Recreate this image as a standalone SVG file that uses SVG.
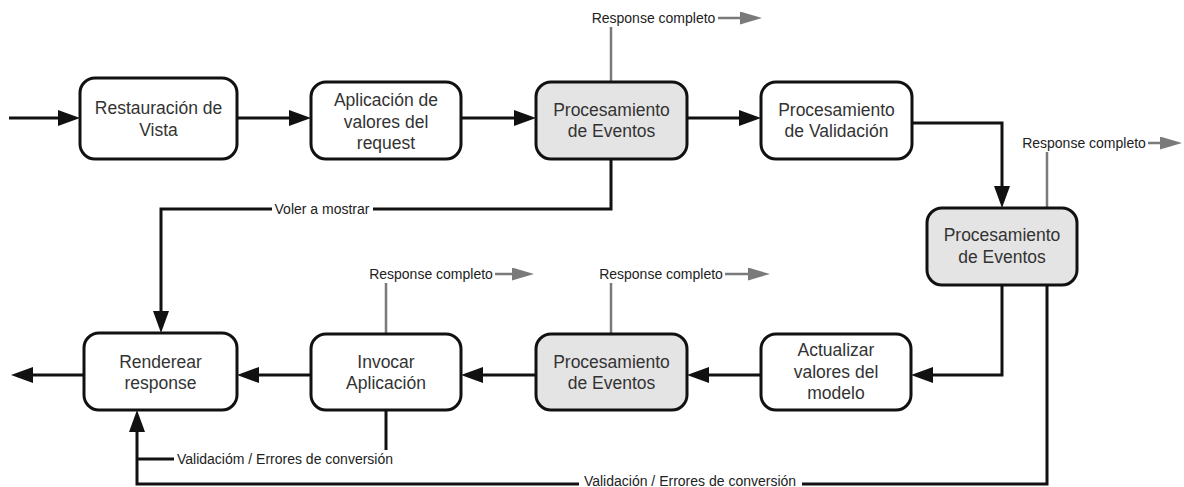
<svg xmlns="http://www.w3.org/2000/svg" width="1184" height="487" viewBox="0 0 1184 487">
<style>
.box{fill:#fff;stroke:#111;stroke-width:3}
.grey{fill:#e4e4e4}
.nt{font-family:"Liberation Sans",Arial,sans-serif;font-size:17.5px;fill:#333;text-anchor:middle}
.lt{font-family:"Liberation Sans",Arial,sans-serif;font-size:14px;fill:#222;text-anchor:middle}
.c{fill:none;stroke:#111;stroke-width:3}
.g{fill:none;stroke:#7a7a7a;stroke-width:2.5}
.bg{fill:#fff}
</style>
<defs>
<marker id="ah" markerUnits="userSpaceOnUse" markerWidth="22" markerHeight="16" refX="12" refY="8" orient="auto"><path d="M0,0 L22,8 L0,16 z" fill="#111"/></marker>
<marker id="gh" markerUnits="userSpaceOnUse" markerWidth="22" markerHeight="13" refX="12" refY="6.5" orient="auto"><path d="M0,0 L22,6.5 L0,13 z" fill="#7a7a7a"/></marker>
</defs>
<g id="connectors">
<path class="c" d="M9,118 L70,118" marker-end="url(#ah)"/>
<path class="c" d="M237,118 L301,118" marker-end="url(#ah)"/>
<path class="c" d="M461,118 L526,118" marker-end="url(#ah)"/>
<path class="c" d="M687,118 L751,118" marker-end="url(#ah)"/>
<path class="c" d="M912,123 L1002,123 L1002,198" marker-end="url(#ah)"/>
<path class="c" d="M1002,285 L1002,375 L921,375" marker-end="url(#ah)"/>
<path class="c" d="M761,375 L697,375" marker-end="url(#ah)"/>
<path class="c" d="M536,375 L471,375" marker-end="url(#ah)"/>
<path class="c" d="M311,375 L247,375" marker-end="url(#ah)"/>
<path class="c" d="M84,375 L21,375" marker-end="url(#ah)"/>
<path class="c" d="M611,159 L611,209 L161,209 L161,323" marker-end="url(#ah)"/>
<path class="c" d="M386,410 L386,459 L137,459"/>
<path class="c" d="M1047,285 L1047,484 L137,484 L137,420" marker-end="url(#ah)"/>
<path class="g" d="M611,83 L611,18 L752,18" marker-end="url(#gh)"/>
<path class="g" d="M1047,208 L1047,143 L1172,143" marker-end="url(#gh)"/>
<path class="g" d="M386,334 L386,274 L524,274" marker-end="url(#gh)"/>
<path class="g" d="M611,334 L611,274 L760,274" marker-end="url(#gh)"/>
<rect class="bg" x="589" y="9" width="129" height="18"/>
<text class="lt" x="653.5" y="23">Response completo</text>
<rect class="bg" x="1020" y="134" width="128" height="18"/>
<text class="lt" x="1084" y="148">Response completo</text>
<rect class="bg" x="367" y="265" width="128" height="18"/>
<text class="lt" x="431" y="279">Response completo</text>
<rect class="bg" x="597" y="265" width="128" height="18"/>
<text class="lt" x="661" y="279">Response completo</text>
<rect class="bg" x="272" y="200" width="101" height="18"/>
<text class="lt" x="322" y="214">Voler a mostrar</text>
<rect class="bg" x="174" y="450" width="222" height="18"/>
<text class="lt" x="285" y="464">Validacióm / Errores de conversión</text>
<rect class="bg" x="579" y="472" width="223" height="15"/>
<text class="lt" x="690" y="486">Validación / Errores de conversión</text>
</g>
<g id="restauracion">
<rect class="box" x="80" y="78" width="157" height="81" rx="15"/>
<text class="nt" x="158.5" y="114">Restauración de</text>
<text class="nt" x="158.5" y="136">Vista</text>
</g>
<g id="aplicacion">
<rect class="box" x="311" y="82" width="150" height="77" rx="15"/>
<text class="nt" x="386" y="106">Aplicación de</text>
<text class="nt" x="386" y="128">valores del</text>
<text class="nt" x="386" y="149">request</text>
</g>
<g id="eventos1">
<rect class="box grey" x="536" y="82" width="151" height="77" rx="15"/>
<text class="nt" x="611.5" y="116">Procesamiento</text>
<text class="nt" x="611.5" y="137">de Eventos</text>
</g>
<g id="validacion">
<rect class="box" x="761" y="82" width="151" height="77" rx="15"/>
<text class="nt" x="836.5" y="116">Procesamiento</text>
<text class="nt" x="836.5" y="137">de Validación</text>
</g>
<g id="eventos2">
<rect class="box grey" x="927" y="208" width="150" height="77" rx="15"/>
<text class="nt" x="1002" y="241">Procesamiento</text>
<text class="nt" x="1002" y="263">de Eventos</text>
</g>
<g id="actualizar">
<rect class="box" x="761" y="334" width="150" height="76" rx="15"/>
<text class="nt" x="836" y="356">Actualizar</text>
<text class="nt" x="836" y="378">valores del</text>
<text class="nt" x="836" y="399">modelo</text>
</g>
<g id="eventos3">
<rect class="box grey" x="536" y="334" width="151" height="76" rx="15"/>
<text class="nt" x="611.5" y="368">Procesamiento</text>
<text class="nt" x="611.5" y="389">de Eventos</text>
</g>
<g id="invocar">
<rect class="box" x="311" y="334" width="150" height="76" rx="15"/>
<text class="nt" x="386" y="368">Invocar</text>
<text class="nt" x="386" y="389">Aplicación</text>
</g>
<g id="renderear">
<rect class="box" x="84" y="333" width="153" height="77" rx="15"/>
<text class="nt" x="160.5" y="368">Renderear</text>
<text class="nt" x="160.5" y="389">response</text>
</g>
</svg>
